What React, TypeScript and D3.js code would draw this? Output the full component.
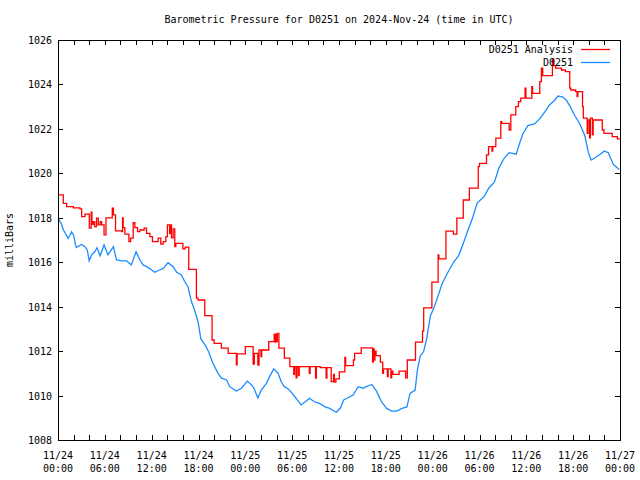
import React from 'react';
import * as d3 from 'd3';

const redHours = [
  0.0, 0.68, 1.11, 1.96, 2.81, 3.03, 3.45, 4.01, 4.25, 4.35, 4.52, 4.7, 4.94, 5.16, 5.4, 5.58, 5.9, 6.15, 6.95, 7.1,
  7.37, 8.14, 8.27, 8.35, 8.57, 9.08, 9.3, 9.63, 9.85, 10.19, 10.49, 11.04, 11.34, 11.77, 12.1, 12.83, 13.17, 13.47, 13.81, 14.02,
  14.3, 14.4, 14.54, 14.75, 14.96, 15.1, 16.0, 16.3, 16.75, 17.73, 17.95, 18.8, 19.74, 20.0, 20.93, 21.8, 22.85, 22.95, 24.0, 25.0,
  25.15, 25.6, 25.75, 26.0, 26.1, 27.0, 27.7, 27.8, 27.9, 28.0, 28.1, 28.3, 29.0, 29.7, 30.2, 30.3, 30.5, 30.6, 30.8, 30.9,
  32.2, 32.3, 33.0, 33.1, 33.6, 34.35, 34.45, 35.0, 35.3, 35.4, 35.6, 36.05, 36.75, 36.85, 37.85, 38.0, 38.85, 40.3, 40.4, 40.5,
  40.6, 40.75, 41.3, 41.6, 41.7, 42.2, 42.3, 42.65, 42.75, 42.9, 43.7, 44.55, 44.75, 45.8, 46.7, 46.85, 47.9, 48.7, 48.8, 49.7,
  50.65, 51.1, 51.92, 52.7, 53.84, 54.0, 54.9, 55.16, 55.6, 55.7, 56.09, 56.73, 56.85, 57.8, 58.01, 58.65, 58.99, 59.29, 59.84, 59.95,
  60.7, 60.8, 61.72, 61.93, 62.1, 63.34, 63.5, 63.76, 64.5, 65.0, 65.56, 65.7, 66.32, 66.5, 66.6, 67.2, 67.3, 67.8, 67.9, 68.1,
  68.2, 68.46, 68.56, 69.73, 69.95, 71.0, 71.65, 72.0,
];
const redValues = [
  1019.03, 1018.65, 1018.5, 1018.45, 1018.4, 1018.05, 1018.16, 1017.53, 1018.25, 1017.7, 1017.83, 1017.6, 1017.98, 1017.68, 1017.83, 1017.68, 1017.23, 1018.0, 1018.43, 1018.13,
  1017.41, 1017.38, 1018.0, 1017.56, 1017.26, 1016.93, 1017.08, 1017.78, 1017.56, 1017.38, 1017.45, 1017.53, 1017.3, 1017.15, 1016.93, 1017.08, 1016.81, 1016.93, 1017.15, 1017.68,
  1017.3, 1017.68, 1017.1, 1017.5, 1016.7, 1016.85, 1016.6, 1016.68, 1015.68, 1014.38, 1014.3, 1013.6, 1012.5, 1012.35, 1012.13, 1011.9, 1011.38, 1011.88, 1012.2, 1011.42,
  1011.9, 1011.37, 1012.05, 1011.75, 1012.05, 1012.43, 1012.76, 1012.4, 1012.76, 1012.43, 1012.8, 1012.13, 1011.68, 1011.3, 1010.95, 1011.3, 1010.8, 1011.3, 1010.9, 1011.3,
  1011.0, 1011.3, 1010.78, 1011.3, 1011.26, 1010.78, 1011.26, 1010.63, 1010.95, 1010.6, 1010.75, 1011.07, 1011.72, 1011.35, 1011.6, 1011.9, 1012.15, 1011.5, 1012.1, 1011.6,
  1012.0, 1011.8, 1011.5, 1011.0, 1011.2, 1010.85, 1011.2, 1010.8, 1011.1, 1010.95, 1011.1, 1010.8, 1011.6, 1012.4, 1012.9, 1013.95, 1015.1, 1016.33, 1016.15, 1017.4,
  1017.26, 1017.98, 1018.8, 1019.33, 1020.3, 1020.45, 1020.83, 1021.2, 1021.0, 1021.2, 1021.58, 1022.33, 1022.25, 1021.95, 1022.63, 1023.0, 1023.23, 1023.38, 1023.83, 1023.38,
  1023.9, 1023.6, 1024.13, 1024.73, 1024.4, 1025.15, 1024.85, 1024.73, 1024.65, 1024.58, 1023.83, 1023.75, 1023.68, 1023.45, 1023.68, 1023.0, 1022.48, 1021.8, 1022.4, 1021.6,
  1022.48, 1021.73, 1022.4, 1021.95, 1021.8, 1021.65, 1021.55, 1021.55,
];

const blueHours = [
  0, 0.4, 0.7, 1.1, 1.3, 1.75, 2.0, 2.25, 2.35, 3.0, 3.45, 3.75, 4.0, 4.3, 4.7, 5.0, 5.4, 5.9, 6.4, 7.1,
  7.5, 8.15, 8.8, 9.4, 10.0, 10.5, 10.9, 11.35, 12.0, 12.4, 13.0, 13.5, 14.1, 14.75, 15.2, 15.8, 16.25, 16.65, 17.1, 17.5,
  17.95, 18.3, 18.8, 19.3, 19.85, 20.5, 20.95, 21.6, 22.0, 22.85, 23.5, 24.25, 24.8, 25.1, 25.6, 26.05, 26.7, 27.1, 27.65, 28.2,
  28.6, 29.0, 29.5, 30.0, 30.5, 31.15, 31.8, 32.2, 32.85, 33.5, 34.15, 34.8, 35.65, 36.2, 36.6, 37.15, 37.8, 38.45, 39.1, 39.5,
  40.2, 40.8, 41.45, 42.1, 42.75, 43.4, 44.05, 44.7, 45.1, 45.75, 46.05, 46.4, 46.85, 47.25, 47.7, 48.1, 48.55, 49.2, 49.85, 50.7,
  51.35, 52.0, 52.45, 53.1, 53.7, 54.6, 55.2, 55.9, 56.5, 57.2, 57.8, 58.7, 59.1, 59.55, 60.2, 61.05, 61.7, 62.35, 63.0, 63.6,
  64.05, 64.7, 65.15, 65.55, 66.2, 66.85, 67.5, 67.95, 68.3, 68.8, 69.45, 70.0, 70.5, 71.15, 71.9,
];
const blueValues = [
  1017.98, 1017.75, 1017.45, 1017.2, 1017.07, 1017.37, 1017.22, 1016.78, 1016.66, 1016.8, 1016.7, 1016.55, 1016.06, 1016.33, 1016.47, 1016.65, 1016.29, 1016.78, 1016.33, 1016.7,
  1016.1, 1016.06, 1016.06, 1015.88, 1016.47, 1016.1, 1015.88, 1015.8, 1015.65, 1015.55, 1015.65, 1015.72, 1015.98, 1015.8, 1015.55, 1015.43, 1015.12, 1014.9, 1014.22, 1013.85,
  1013.32, 1012.55, 1012.3, 1011.97, 1011.45, 1011.0, 1010.78, 1010.7, 1010.4, 1010.2, 1010.33, 1010.65, 1010.48, 1010.33, 1009.9, 1010.25, 1010.55, 1010.85, 1011.2, 1011.0,
  1010.62, 1010.4, 1010.3, 1010.1, 1009.88, 1009.58, 1009.76, 1009.88, 1009.72, 1009.65, 1009.5, 1009.42, 1009.25, 1009.45, 1009.8, 1009.9, 1010.02, 1010.4, 1010.33, 1010.4,
  1010.5, 1010.2, 1009.72, 1009.42, 1009.3, 1009.3, 1009.42, 1009.49, 1010.1, 1010.25, 1011.16, 1011.77, 1011.99, 1012.6, 1013.58, 1013.89, 1014.34, 1015.02, 1015.48, 1016.01,
  1016.31, 1016.92, 1017.37, 1017.98, 1018.66, 1018.96, 1019.34, 1019.6, 1020.25, 1020.7, 1020.93, 1020.86, 1021.31, 1021.77, 1022.15, 1022.22, 1022.45, 1022.75, 1023.09, 1023.28,
  1023.48, 1023.43, 1023.28, 1023.05, 1022.6, 1022.22, 1021.69, 1020.93, 1020.6, 1020.7, 1020.86, 1021.0, 1020.93, 1020.4, 1020.17,
];

const yTicks = [1008, 1010, 1012, 1014, 1016, 1018, 1020, 1022, 1024, 1026];
const xTickHours = [0, 6, 12, 18, 24, 30, 36, 42, 48, 54, 60, 66, 72];
const xTickDates = ['11/24', '11/24', '11/24', '11/24', '11/25', '11/25', '11/25', '11/25', '11/26', '11/26', '11/26', '11/26', '11/27'];
const xTickTimes = ['00:00', '06:00', '12:00', '18:00', '00:00', '06:00', '12:00', '18:00', '00:00', '06:00', '12:00', '18:00', '00:00'];
const minorTickHours = d3.range(0, 73, 2);

const titleText = 'Barometric Pressure for D0251 on 2024-Nov-24 (time in UTC)';
const seriesNames = ['D0251 Analysis', 'D0251'];
const seriesColors = ['#ff0000', '#1a8cff'];

export default function App() {
  const W = 640, H = 480;
  const L = 58, R = 620, T = 40, B = 440;
  const x = d3.scaleLinear().domain([0, 72]).range([L, R]);
  const y = d3.scaleLinear().domain([1008, 1026]).range([B, T]);

  const redLine = d3.line<number>()
    .x((_, i) => x(redHours[i]))
    .y((d) => y(d))
    .curve(d3.curveStepAfter);
  const blueLine = d3.line<number>()
    .x((_, i) => x(blueHours[i]))
    .y((d) => y(d));

  const font = '"DejaVu Sans Mono", monospace';
  const fs = 10;

  return (
    <svg width={W} height={H} style={{ position: 'absolute', left: 0, top: 0, background: '#fff' }}
      fontFamily={font} fontSize={fs}>
      <rect x={0} y={0} width={W} height={H} fill="#fff" />
      <defs>
        <clipPath id="plotclip">
          <rect x={L} y={T} width={R - L} height={B - T} />
        </clipPath>
      </defs>
      <text x={(L + R) / 2} y={23} textAnchor="middle" fill="#000">{titleText}</text>
      <text transform={`translate(13,${(T + B) / 2}) rotate(-90)`} textAnchor="middle" fill="#000">milliBars</text>

      {yTicks.map((t) => (
        <g key={'y' + t}>
          <line x1={L} x2={L + 5} y1={Math.round(y(t)) + 0.5} y2={Math.round(y(t)) + 0.5} stroke="#000" />
          <line x1={R - 5} x2={R} y1={Math.round(y(t)) + 0.5} y2={Math.round(y(t)) + 0.5} stroke="#000" />
          <text x={L - 6} y={y(t) + 4} textAnchor="end" fill="#000">{t}</text>
        </g>
      ))}
      {minorTickHours.map((h) => (
        <g key={'m' + h}>
          <line x1={Math.round(x(h)) + 0.5} x2={Math.round(x(h)) + 0.5} y1={B} y2={B - 5} stroke="#000" />
          <line x1={Math.round(x(h)) + 0.5} x2={Math.round(x(h)) + 0.5} y1={T} y2={T + 5} stroke="#000" />
        </g>
      ))}
      {xTickHours.map((h, i) => (
        <g key={'x' + h}>
          <text x={x(h)} y={459} textAnchor="middle" fill="#000">{xTickDates[i]}</text>
          <text x={x(h)} y={472} textAnchor="middle" fill="#000">{xTickTimes[i]}</text>
        </g>
      ))}

      <g clipPath="url(#plotclip)">
        <path d={redLine(redValues) || ''} fill="none" stroke={seriesColors[0]} strokeWidth={1.3} />
        <path d={blueLine(blueValues) || ''} fill="none" stroke={seriesColors[1]} strokeWidth={1.3} />
      </g>

      {seriesNames.map((n, i) => (
        <g key={n}>
          <text x={573} y={53 + i * 13} textAnchor="end" fill="#000">{n}</text>
          <line x1={581} x2={610} y1={49.5 + i * 13} y2={49.5 + i * 13} stroke={seriesColors[i]} strokeWidth={1.3} />
        </g>
      ))}

      <rect x={L + 0.5} y={T + 0.5} width={R - L} height={B - T} fill="none" stroke="#000" strokeWidth={1} />
    </svg>
  );
}
